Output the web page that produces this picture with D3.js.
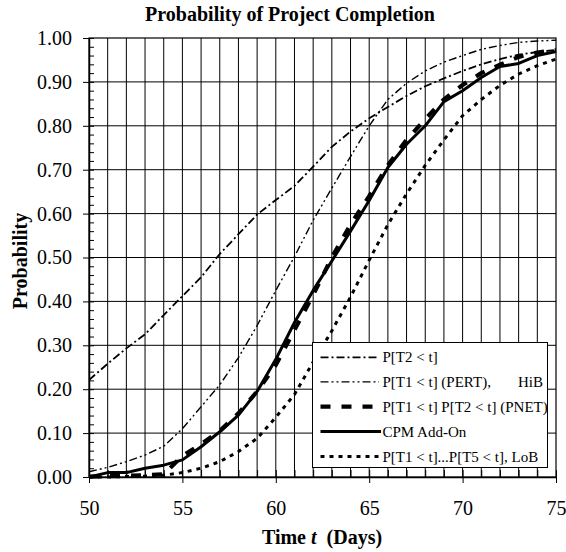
<!DOCTYPE html>
<html>
<head>
<meta charset="utf-8">
<script src="https://cdn.jsdelivr.net/npm/d3@7"></script>
<style>
  html, body { margin: 0; padding: 0; background: #fff; }
  svg { display: block; }
  text { font-family: "Liberation Serif", "Times New Roman", serif; fill: #000; }
</style>
</head>
<body>
<svg id="chart" width="566" height="552"></svg>
<script>
// ---- data ----
const days = [50,51,52,53,54,55,56,57,58,59,60,61,62,63,64,65,66,67,68,69,70,71,72,73,74,75];
const pT2  = [0.221,0.258,0.293,0.325,0.369,0.412,0.455,0.508,0.553,0.598,0.631,0.663,0.707,0.752,0.787,0.817,0.843,0.868,0.890,0.908,0.925,0.940,0.952,0.962,0.968,0.973];
const pT1pert = [0.012,0.022,0.035,0.050,0.070,0.110,0.160,0.210,0.272,0.345,0.425,0.502,0.585,0.658,0.730,0.800,0.860,0.897,0.925,0.945,0.960,0.974,0.983,0.990,0.993,0.995];
const pnet = [0.001,0.002,0.003,0.004,0.006,0.048,0.075,0.105,0.145,0.195,0.255,0.335,0.415,0.500,0.575,0.640,0.710,0.768,0.815,0.860,0.893,0.920,0.939,0.957,0.967,0.973];
const cpm  = [0.000,0.010,0.010,0.020,0.027,0.039,0.069,0.103,0.141,0.195,0.268,0.352,0.425,0.492,0.560,0.630,0.705,0.758,0.800,0.855,0.880,0.910,0.935,0.942,0.960,0.969];
const lob  = [0.000,0.000,0.001,0.002,0.004,0.010,0.020,0.035,0.058,0.088,0.136,0.188,0.262,0.333,0.410,0.494,0.575,0.645,0.710,0.768,0.823,0.860,0.892,0.918,0.937,0.952];

const xTickLabels = [50,55,60,65,70,75];
const yTickLabels = [0,0.1,0.2,0.3,0.4,0.5,0.6,0.7,0.8,0.9,1.0];
const seriesNames = ["P[T2 < t]", "P[T1 < t] (PERT),", "P[T1 < t] P[T2 < t] (PNET)", "CPM Add-On", "P[T1 < t]...P[T5 < t], LoB"];

// ---- layout ----
const svg = d3.select("#chart");
const x = d3.scaleLinear().domain([50,75]).range([89,556]);
const y = d3.scaleLinear().domain([0,1]).range([477,38]);

// title
svg.append("text").attr("x", 290).attr("y", 21).attr("text-anchor","middle")
  .style("font-size","20px").style("font-weight","bold")
  .text("Probability of Project Completion");

// gridlines
const g = svg.append("g");
g.selectAll("line.vg").data(days.filter(d => d > 50 && d < 75)).enter().append("line")
  .attr("x1", d => x(d)).attr("x2", d => x(d)).attr("y1", y(0)).attr("y2", y(1))
  .attr("stroke","#000").attr("stroke-width",1);
g.selectAll("line.hg").data(yTickLabels.filter(d => d > 0 && d < 1)).enter().append("line")
  .attr("x1", x(50)).attr("x2", x(75)).attr("y1", d => y(d)).attr("y2", d => y(d))
  .attr("stroke","#000").attr("stroke-width",1);

// frame
svg.append("rect").attr("x", x(50)).attr("y", y(1)).attr("width", x(75)-x(50)).attr("height", y(0)-y(1))
  .attr("fill","none").attr("stroke","#000").attr("stroke-width",1.2);

// clip
svg.append("clipPath").attr("id","clip").append("rect")
  .attr("x", x(50)).attr("y", y(1)-4).attr("width", x(75)-x(50)+2).attr("height", y(0)-y(1)+6);

const series = [
  {vals: pT2,     w: 1.8, dash: "8,3,2,3"},
  {vals: pT1pert, w: 1.4, dash: "8,3,2,3,2,3"},
  {vals: pnet,    w: 4.2, dash: "10,11"},
  {vals: cpm,     w: 3,   dash: null},
  {vals: lob,     w: 3,   dash: "4,5"}
];

const line = d3.line().x((d,i) => x(days[i])).y(d => y(d)).curve(d3.curveLinear);
const lg = svg.append("g").attr("clip-path","url(#clip)");
series.forEach(s => {
  const p = lg.append("path").attr("d", line(s.vals)).attr("fill","none")
    .attr("stroke","#000").attr("stroke-width", s.w).attr("stroke-linejoin","round");
  if (s.dash) p.attr("stroke-dasharray", s.dash);
});

// axes
const yAxis = d3.axisLeft(y).tickValues(yTickLabels).tickFormat(d3.format(".2f")).tickSize(6).tickPadding(11).tickSizeOuter(0);
const ya = svg.append("g").attr("transform", `translate(${x(50)},0)`).call(yAxis);
ya.select(".domain").attr("stroke-width",1.5);
ya.selectAll("text").style("font-size","20px").style("font-family","'Liberation Serif','Times New Roman',serif");

const yMinor = d3.range(0, 51).map(i => i / 50);
const ym = svg.append("g").attr("transform", `translate(${x(50)},0)`)
  .call(d3.axisLeft(y).tickValues(yMinor).tickSize(-5).tickFormat("").tickSizeOuter(0));
ym.select(".domain").remove();

const xAxis = d3.axisBottom(x).tickValues(xTickLabels).tickFormat(d3.format("d")).tickSize(6).tickPadding(18).tickSizeOuter(0);
const xa = svg.append("g").attr("transform", `translate(0,${y(0)})`).call(xAxis);
xa.select(".domain").attr("stroke-width",1.5);
xa.selectAll("text").style("font-size","20px").style("font-family","'Liberation Serif','Times New Roman',serif");

const xm = svg.append("g").attr("transform", `translate(0,${y(0)})`)
  .call(d3.axisBottom(x).tickValues(days).tickSize(-7).tickFormat("").tickSizeOuter(0));
xm.select(".domain").remove();

// axis titles
const xt = svg.append("text").attr("x", 322).attr("y", 544).attr("text-anchor","middle")
  .attr("xml:space","preserve")
  .style("font-size","20px").style("font-weight","bold");
xt.append("tspan").text("Time ");
xt.append("tspan").style("font-style","italic").text("t");
xt.append("tspan").text("\u00a0 (Days)");

svg.append("text").attr("transform","translate(27,261) rotate(-90)").attr("text-anchor","middle")
  .style("font-size","20px").style("font-weight","bold").text("Probability");

// legend
const leg = svg.append("g");
leg.append("rect").attr("x",312.5).attr("y",342.5).attr("width",235).attr("height",125)
  .attr("fill","#fff").attr("stroke","#000").attr("stroke-width",1);
const rowY = [357.3, 381.9, 406.6, 431.5, 456.5];
series.forEach((s, i) => {
  const l = leg.append("line").attr("x1", 320.5).attr("x2", i === 3 ? 381 : 379)
    .attr("y1", rowY[i]).attr("y2", rowY[i]).attr("stroke","#000").attr("stroke-width", s.w);
  if (s.dash) l.attr("stroke-dasharray", s.dash);
  leg.append("text").attr("x", 382.5).attr("y", rowY[i] + 5).style("font-size","15px").text(seriesNames[i]);
});
leg.append("text").attr("x", 518).attr("y", rowY[1] + 5).style("font-size","15px").text("HiB");
</script>
</body>
</html>
